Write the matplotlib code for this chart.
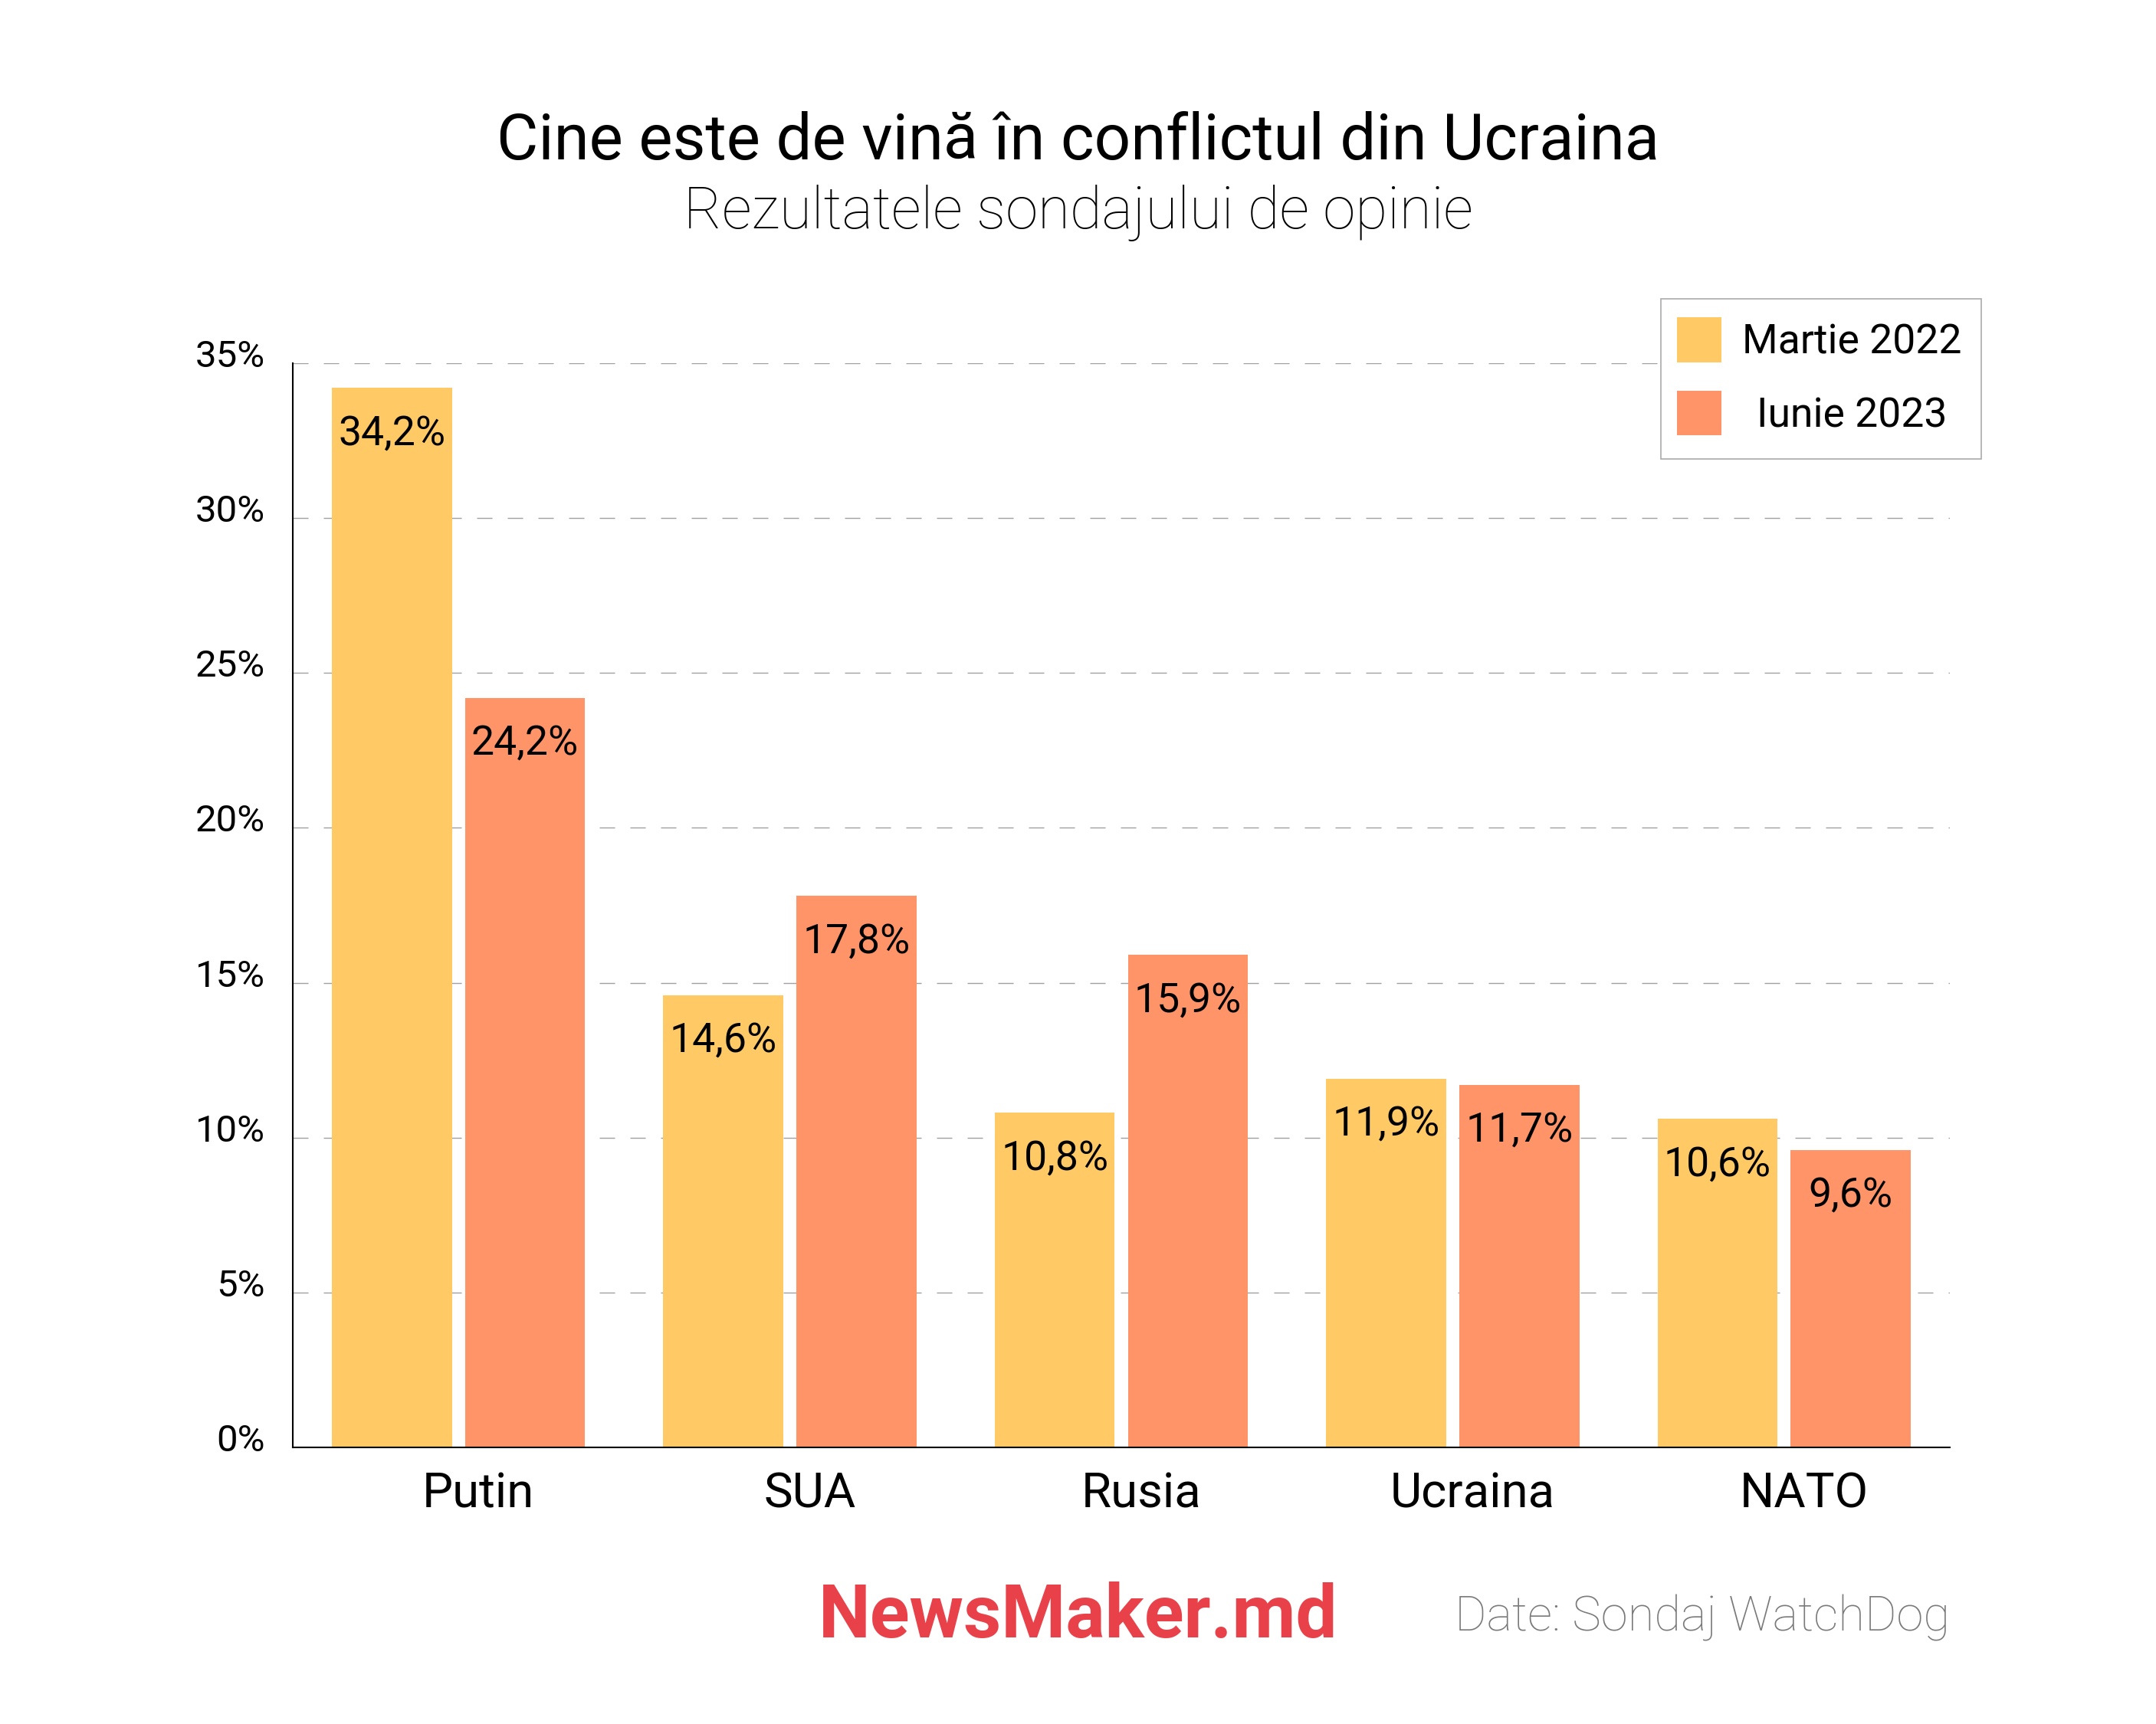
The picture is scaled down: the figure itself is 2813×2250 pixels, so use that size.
import matplotlib
matplotlib.use("Agg")
import matplotlib.pyplot as plt
import matplotlib.transforms as mtransforms
from matplotlib.patches import Rectangle
import numpy as np

categories = ["Putin", "SUA", "Rusia", "Ucraina", "NATO"]
series_names = ["Martie 2022", "Iunie 2023"]
martie_2022 = [34.2, 14.6, 10.8, 11.9, 10.6]
iunie_2023 = [24.2, 17.8, 15.9, 11.7, 9.6]
y_ticks = [0, 5, 10, 15, 20, 25, 30, 35]
y_tick_labels = ["0%", "5%", "10%", "15%", "20%", "25%", "30%", "35%"]
colors = ["#FFCA66", "#FF9468"]

W, H, DPI = 2813, 2250, 100
plt.rcParams['font.family'] = ['Roboto', 'DejaVu Sans']

fig = plt.figure(figsize=(W / DPI, H / DPI), dpi=DPI)
fig.patch.set_facecolor("white")

def fx(px):
    return px / W

def fy(py):
    return 1 - py / H

ax = fig.add_axes([fx(382), fy(1889), fx(2544) - fx(382), fy(474) - fy(1889)])

x = np.arange(len(categories))
bw = 0.362
off = 0.201
for vals, c, sgn in [(martie_2022, colors[0], -1), (iunie_2023, colors[1], 1)]:
    bars = ax.bar(x + sgn * off, vals, width=bw, color=c, zorder=3)
    for b, v in zip(bars, vals):
        ax.annotate(f"{v:.1f}".replace(".", ",") + "%",
                    (b.get_x() + b.get_width() / 2, v),
                    xytext=(0, -74), textcoords="offset pixels",
                    ha="center", va="baseline", fontsize=38.5, color="black",
                    zorder=4)

ax.set_xlim(-0.5, 4.5)
ax.set_ylim(0, 35)
ax.set_yticks(y_ticks)
ax.set_yticklabels(y_tick_labels, fontsize=35.4)
ax.set_xticks(x + 0.06)
ax.set_xticklabels(categories, fontsize=45.6)
ax.tick_params(axis="both", length=0)
ax.tick_params(axis="y", pad=26)
ax.tick_params(axis="x", pad=23)

for lab in ax.get_yticklabels():
    lab.set_transform(lab.get_transform() + mtransforms.ScaledTranslation(0, 13 / DPI, fig.dpi_scale_trans))

ax.yaxis.grid(True, color="#A0A0A0", linewidth=1.0, linestyle=(0, (14.4, 14.4)), zorder=0)
ax.set_axisbelow(True)
for s in ["top", "right"]:
    ax.spines[s].set_visible(False)
for s in ["left", "bottom"]:
    ax.spines[s].set_color("black")
    ax.spines[s].set_linewidth(1.5)
    ax.spines[s].set_zorder(5)

# Titles
fig.text(0.5, fy(208), "Cine este de vină în conflictul din Ucraina", ha="center", va="baseline",
         fontsize=60.0, color="black")
fig.text(0.5, fy(298), "Rezultatele sondajului de opinie", ha="center", va="baseline",
         fontsize=55.0, color="black", fontweight="light")

# Legend (manual, centered labels)
fig.patches.append(Rectangle((fx(2167), fy(599)), fx(2585) - fx(2167), fy(390) - fy(599),
                             transform=fig.transFigure, facecolor="white", edgecolor="#AAAAAA",
                             linewidth=1.2, zorder=10))
leg_rows = [(414, 473, 462), (510, 568, 558)]
for name, c, (t, b, bl) in zip(series_names, colors, leg_rows):
    fig.patches.append(Rectangle((fx(2188), fy(b)), fx(2246) - fx(2188), fy(t) - fy(b),
                                 transform=fig.transFigure, facecolor=c, edgecolor="none", zorder=11))
    fig.text(fx(2416), fy(bl), name, ha="center", va="baseline", fontsize=38.5, color="black", zorder=12)

# Footer
fig.text(0.5, fy(2137), "NewsMaker.md", ha="center", va="baseline", fontsize=69,
         fontweight="bold", color="#E8414A")
fig.text(fx(2544), fy(2128), "Date: Sondaj WatchDog", ha="right", va="baseline", fontsize=45.6,
         fontweight="light", color="#7A7A7A")

fig.savefig("out.png", dpi=DPI, facecolor="white")
